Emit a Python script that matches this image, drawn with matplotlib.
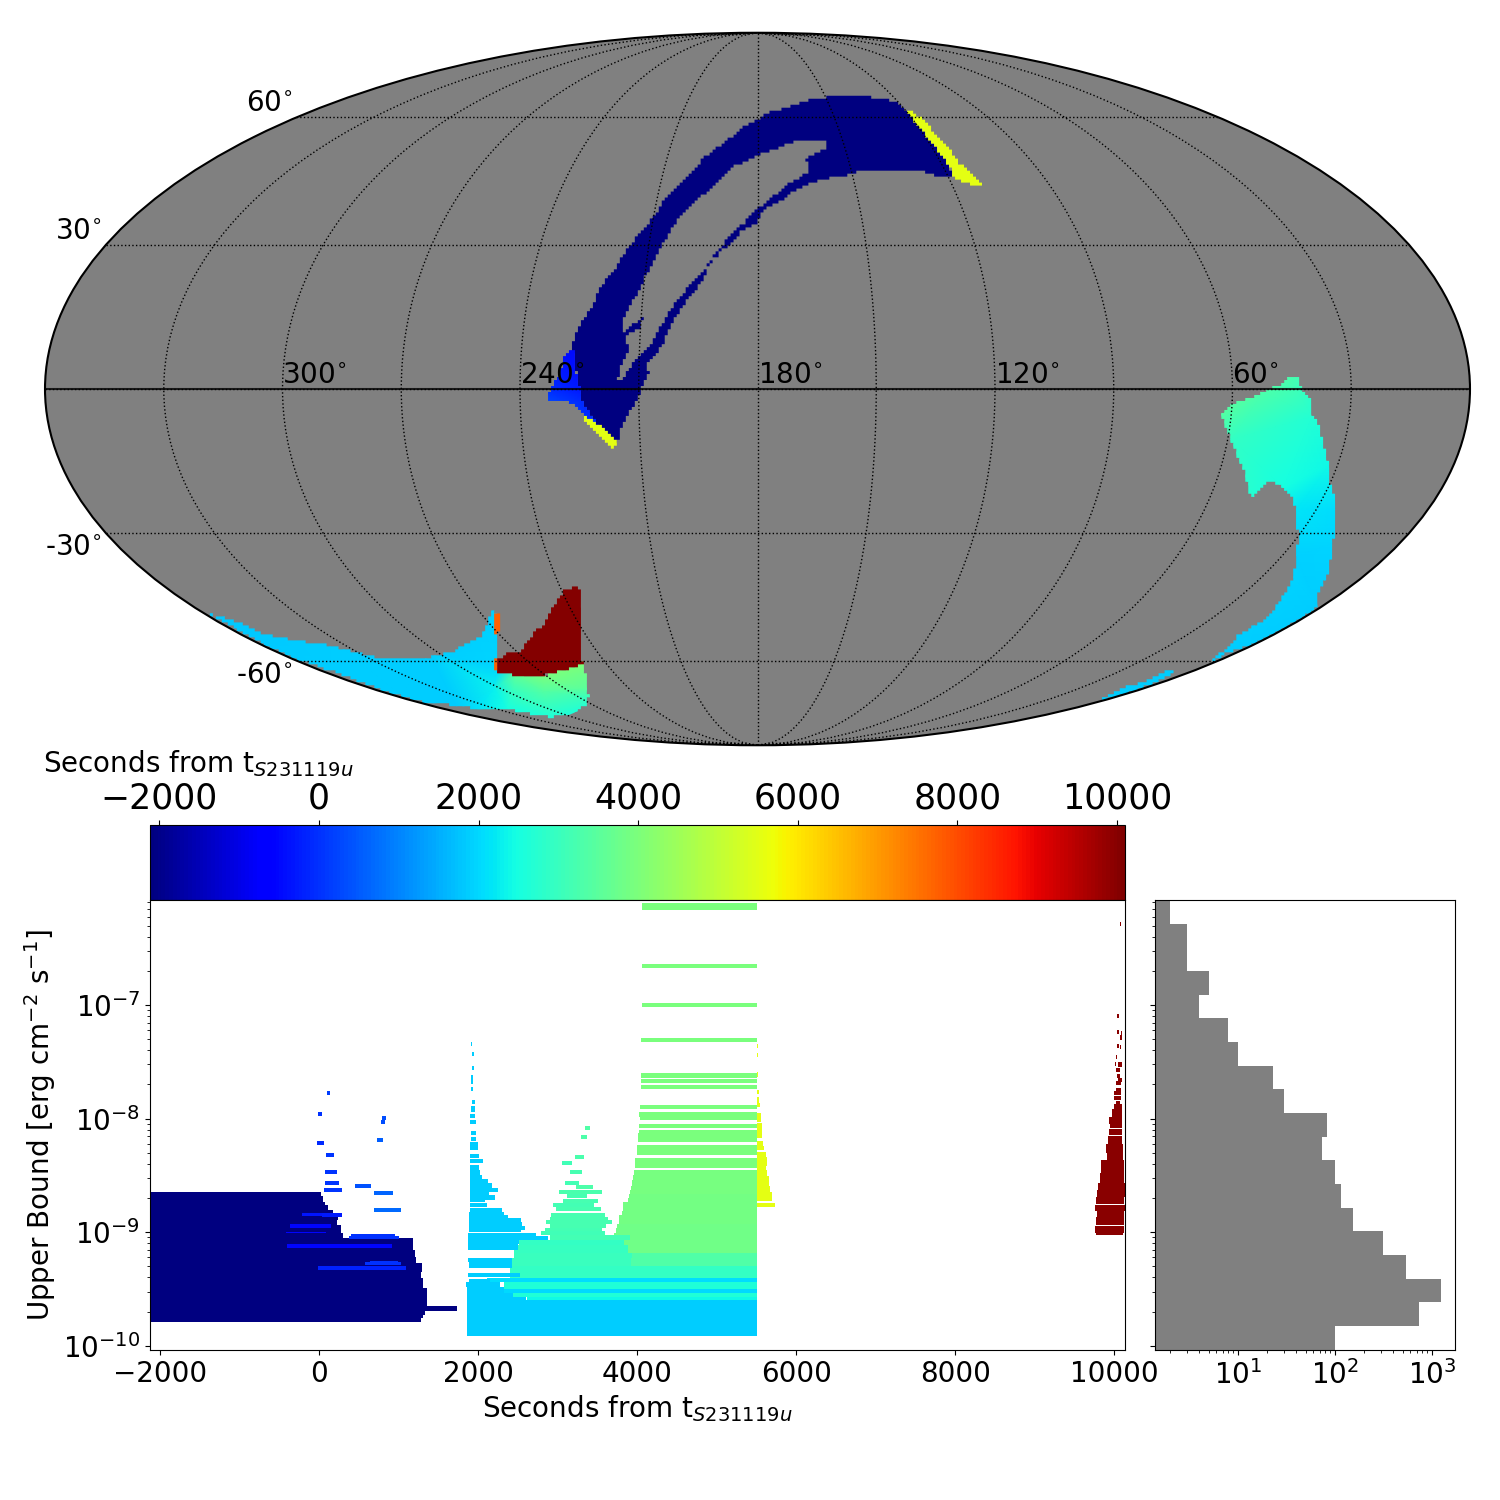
import numpy as np
import matplotlib

matplotlib.use("Agg")
import matplotlib.pyplot as plt
from matplotlib.cm import ScalarMappable
from matplotlib.colors import Normalize
from matplotlib.patches import PathPatch
from matplotlib.path import Path
from matplotlib.ticker import NullFormatter

# Colour scale and light curve panel run over slightly different windows
time_min = -2118
time_max = 10100
panel_time_min = -2130
panel_time_max = 10135
ub_min = 9.2e-11
ub_max = 8.4e-7
time_ticks = [-2000, 0, 2000, 4000, 6000, 8000, 10000]
ub_ticks = [1e-10, 1e-9, 1e-8, 1e-7]
time_label = "Seconds from t$_{S231119u}$"

# Sky regions, outline on the Mollweide plane (1000 = map half width / half height)
navy_x = [-249, -261, -251, -244, -233, -223, -213, -199, -186, -165, -146, -130, -99, -76, -50, -15, 18, 55, 78, 116, 149,
          177, 198, 207, 223, 237, 249, 261, 270, 275, 265, 244, 233, 149, 130, 111, 92, 69, 50, 32, 8,
          -1, -20, -39, -53, -71, -74, -90, -106, -123, -132, -142, -155, -153, -163, -170, -179, -191, -197, -221, -237, -247]
navy_y = [-1, 129, 175, 199, 232, 279, 309, 344, 386, 442, 484, 535, 596, 648, 690, 741, 778, 800, 816, 823, 823,
          813, 802, 783, 755, 713, 680, 648, 615, 596, 596, 603, 615, 615, 601, 596, 587, 573, 554, 526, 503,
          465, 447, 405, 381, 339, 307, 269, 227, 176, 129, 97, 73, 45, -1, -34, -67, -113, -151, -109, -67, -29]
navy_hole_x = [-197, -192, -180, -187, -165, -160, -177, -191, -187, -179, -167, -158, -142, -127, -111, -83, -60, -34, -1, 25, 55,
               97, 95, 67, 75, 55, 36, 15, -1, -20, -39, -57, -76, -85, -99, -116, -130, -142, -156, -174, -188]
navy_hole_y = [22, 55, 115, 143, 171, 202, 181, 153, 195, 232, 269, 311, 372, 428, 475, 531, 573, 622, 654, 673, 697,
               701, 676, 648, 613, 591, 566, 531, 507, 465, 433, 386, 335, 316, 283, 241, 199, 153, 111, 78, 31]

north_yellow_x = [206, 214, 226, 237, 249, 268, 282, 312, 313, 303, 287, 275, 268, 258, 247, 237, 223, 214]
north_yellow_y = [783, 781, 764, 746, 713, 680, 634, 582, 573, 573, 582, 601, 634, 657, 685, 713, 746, 769]
equator_yellow_x = [-245, -237, -221, -197, -202, -209, -223, -235, -245]
equator_yellow_y = [-74, -85, -104, -151, -168, -155, -130, -104, -85]

blue_x = [-263, -258, -258, -249, -247, -236, -222, -227, -249, -263, -277, -297, -291, -286, -277, -272]
blue_y = [111, 106, 64, -1, -29, -67, -107, -111, -62, -34, -37, -34, -1, 22, 45, 92]
blue_ctrl_x = [-275, -250, -240, -295, -302, -265, -240, -215, -232]
blue_ctrl_y = [115, 115, -5, 0, -42, -42, -30, -115, -118]
blue_ctrl_time = [-450, -450, -350, -50, 350, 100, -150, -50, -50]

south_x = [-771, -752, -736, -719, -696, -661, -633, -600, -567, -534, -492, -460, -432, -408, -385, -378, -373, -367, -364, -364,
           -301, -282, -258, -244, -242, -240, -236, -240, -258, -291, -352, -394, -422, -469, -525, -563, -591, -619, -647, -689, -731]
south_y = [-630, -641, -650, -664, -688, -702, -711, -720, -739, -753, -758, -753, -739, -716, -688, -646, -622, -632, -692, -800,
           -804, -795, -776, -767, -786, -842, -865, -888, -912, -921, -898, -898, -888, -879, -846, -818, -795, -776, -758, -720, -674]
south_ctrl_x = [-790, -760, -600, -600, -460, -385, -360, -364, -500, -420, -394, -352, -290, -225, -236, -240, -230, -301, -340, -300, -345, -370]
south_ctrl_y = [-620, -710, -700, -840, -740, -670, -610, -780, -860, -900, -898, -898, -935, -880, -865, -842, -760, -804, -802, -850, -850, -840]
south_ctrl_time = [1800, 1800, 1850, 1850, 1850, 1900, 1900, 1950, 1850, 1850, 2100, 2500, 2500, 2700, 3000, 3500, 4000, 3950, 3600, 3400, 2900, 2300]

red_x = [-364, -347, -333, -329, -310, -301, -280, -270, -251, -247, -249, -249, -247, -245, -258, -282, -301, -336, -364]
red_y = [-758, -739, -744, -720, -674, -664, -585, -562, -552, -590, -636, -692, -758, -772, -781, -795, -804, -804, -797]
orange_top_x = [-370, -361, -361, -364, -373, -368, -368]
orange_top_y = [-632, -632, -660, -688, -683, -669, -650]
orange_low_x = [-368, -364, -364, -372, -368]
orange_low_y = [-756, -756, -790, -790, -781]

east_x = [743, 757, 764, 775, 778, 787, 794, 801, 803, 808, 812, 808, 801, 794, 787, 787, 766, 729, 691, 663, 635, 642, 665, 675, 701,
          722, 731, 743, 752, 757, 759, 756, 750, 738, 722, 710, 696, 691, 687, 682, 672, 665, 657, 651, 668, 691, 710, 736]
east_y = [36, 38, -1, -29, -76, -99, -151, -216, -263, -286, -338, -431, -515, -552, -571, -613, -641, -683, -720, -739, -767, -753, -716, -688, -660,
          -627, -599, -562, -524, -468, -412, -338, -305, -277, -258, -272, -302, -291, -258, -221, -183, -141, -109, -71, -39, -25, -6, 13]
east_ctrl_x = [620, 780, 830, 830, 830, 620, 640, 670, 720, 743, 651, 710, 665, 778, 696, 738, 801, 756, 812, 757, 808, 787, 691]
east_ctrl_y = [60, 60, -100, -340, -620, -790, -150, -310, -450, 36, -71, -6, -141, -76, -302, -277, -216, -338, -338, -468, -431, -613, -720]
east_ctrl_time = [3500, 3000, 2650, 2050, 1850, 1850, 3050, 2700, 2000, 3300, 3400, 3300, 2900, 2700, 2700, 2500, 2400, 2150, 2050, 1900, 1950, 1850, 1850]

tail_x = [481, 495, 513, 546, 577, 586, 560, 513, 481]
tail_y = [-870, -856, -837, -818, -790, -797, -823, -860, -874]

sky_lon_labels = [300, 240, 180, 120, 60]
sky_lat_labels = [60, 30, -30, -60]

# Upper bound rows, exponents of the bound
navy_end = [19, 48, 73, 111, 165, 230, 236, 223, 265, 290, 1176, 1201, 1209, 1289, 1276, 1297, 1347, 1723, 1326, 1301, 1272]
navy_top = [-8.642, -8.677, -8.730, -8.759, -8.803, -8.833, -8.862, -8.891, -8.935, -9.009, -9.052, -9.155, -9.214, -9.272, -9.346, -9.404, -9.492, -9.653, -9.692, -9.727, -9.756]
navy_bottom = [-8.677, -8.730, -8.759, -8.803, -8.833, -8.862, -8.891, -8.935, -9.009, -9.052, -9.155, -9.214, -9.272, -9.346, -9.404, -9.492, -9.653, -9.692, -9.727, -9.756, -9.788]

streak_start = [94, -19, 783, 771, 721, -31, 81, 69, 69, 56, 445, 683, 683, -219, 31, -370, -420, 395, 370, -407, 633, 570, -19]
streak_end = [132, 31, 833, 821, 796, 56, 182, 219, 244, 282, 645, 921, 1021, 282, 282, 144, 81, 946, 996, 909, 984, 1021, 1084]
streak_top = [-7.757, -7.941, -7.976, -8.012, -8.170, -8.196, -8.302, -8.451, -8.548, -8.610, -8.575, -8.636, -8.786, -8.830, -8.830, -8.926, -8.997, -9.014, -9.032, -9.102, -9.252, -9.261, -9.296]
streak_bottom = [-7.792, -7.976, -8.012, -8.047, -8.205, -8.231, -8.337, -8.487, -8.583, -8.645, -8.610, -8.671, -8.821, -8.856, -8.865, -8.962, -9.006, -9.032, -9.058, -9.137, -9.261, -9.287, -9.331]
streak_time = [150, 0, 350, 350, 550, -100, 30, 30, 30, 30, 400, 650, 670, -350, -300, -500, -500, 0, 0, -500, 0, 0, -200]

cyan_start = [1898, 1911, 1911, 1898, 1898, 1911, 1898, 1886, 1886, 1898, 1898, 1886, 1886, 1886, 1886, 1886, 1886, 1886, 1886, 1886, 1886, 1886, 1886,
              1886, 1886, 1873, 1873, 1873, 1873, 1873, 1873, 1861, 1861, 1861, 1861, 1861, 1873, 1861, 1873, 1836, 1844, 1844, 1844, 1844]
cyan_end = [1911, 1936, 1936, 1923, 1923, 1948, 1948, 1948, 1961, 1961, 1961, 1986, 1999, 2049, 1999, 2011, 2036, 2111, 2162, 2237, 2124, 2199, 2074,
            2099, 2287, 2312, 2362, 2525, 2537, 2575, 2525, 2713, 2868, 2500, 2487, 2412, 2412, 2512, 2137, 2262, 2312, 2429, 2587, 5482]
cyan_top = [-7.326, -7.414, -7.537, -7.616, -7.721, -7.836, -7.888, -7.959, -8.012, -8.108, -8.161, -8.205, -8.311, -8.355, -8.407, -8.451, -8.495, -8.531, -8.566, -8.610, -8.645, -8.671, -8.715,
            -8.742, -8.786, -8.821, -8.847, -8.874, -8.909, -8.944, -8.979, -9.006, -9.032, -9.067, -9.102, -9.225, -9.261, -9.357, -9.410, -9.437, -9.478, -9.536, -9.571, -9.595]
cyan_bottom = [-7.361, -7.449, -7.572, -7.695, -7.757, -7.871, -7.941, -7.994, -8.047, -8.144, -8.196, -8.276, -8.346, -8.390, -8.451, -8.495, -8.531, -8.566, -8.610, -8.645, -8.671, -8.715, -8.733,
               -8.777, -8.821, -8.847, -8.874, -8.909, -8.944, -8.979, -8.997, -9.032, -9.067, -9.102, -9.155, -9.261, -9.313, -9.393, -9.437, -9.478, -9.536, -9.571, -9.595, -9.917]

band_start = [3900, 3650, 2390, 2100, 2310, 2300, 2430, 2600]
band_top = [-9.184, -9.228, -9.296, -9.401, -9.437, -9.501, -9.536, -9.571]
band_bottom = [-9.228, -9.296, -9.401, -9.437, -9.501, -9.536, -9.571, -9.595]
band_time = [3350, 3350, 2900, 2050, 2650, 2000, 2650, 2400]

teal_start = [3327, 3277, 3201, 3039, 3139, 3076, 3214, 3001, 3101, 3051, 2926, 2963, 2901, 2888, 2838, 2888, 2826, 2776, 2888, 2500, 2437, 2437, 2412]
teal_end = [3389, 3352, 3314, 3164, 3289, 3252, 3427, 3540, 3352, 3490, 3439, 3528, 3578, 3615, 3665, 3590, 3540, 3578, 3891, 3816, 3866, 3916, 3908]
teal_top = [-8.064, -8.144, -8.319, -8.372, -8.451, -8.548, -8.583, -8.627, -8.662, -8.707, -8.742, -8.777, -8.830, -8.865, -8.891, -8.926, -8.962, -8.988, -9.023, -9.067, -9.111, -9.184, -9.228]
teal_bottom = [-8.100, -8.179, -8.355, -8.407, -8.487, -8.583, -8.619, -8.662, -8.698, -8.742, -8.777, -8.812, -8.865, -8.891, -8.926, -8.962, -8.988, -9.023, -9.067, -9.111, -9.184, -9.228, -9.296]
teal_time = [3350, 3300, 3250, 3100, 3200, 3150, 3300, 3250, 3200, 3200, 3150, 3200, 3200, 3200, 3200, 3200, 3150, 3100, 3150, 2900, 2950, 3000, 3000]

green_start = [4040, 4040, 4040, 4028, 4028, 4028, 4028, 4015, 4002, 4015, 4002, 4002, 3989, 3977, 3956, 3956, 3943, 3930, 3917, 3905, 3892, 3879, 3867, 3803, 3790, 3752, 3727, 3714, 3689, 3600]
green_top = [-6.103, -6.639, -6.983, -7.290, -7.598, -7.651, -7.704, -7.880, -7.941, -7.985, -8.047, -8.100, -8.126, -8.231, -8.346, -8.399, -8.451, -8.495, -8.539, -8.592, -8.627, -8.662, -8.698, -8.733, -8.812, -8.847, -8.926, -8.965, -9.009, -9.023]
green_bottom = [-6.164, -6.675, -7.018, -7.326, -7.642, -7.686, -7.739, -7.915, -7.985, -8.012, -8.082, -8.126, -8.205, -8.319, -8.399, -8.434, -8.495, -8.539, -8.592, -8.627, -8.662, -8.698, -8.733, -8.812, -8.847, -8.926, -8.965, -9.009, -9.023, -9.184]
green_time = [3990, 3990, 3990, 3990, 3990, 3990, 3990, 3980, 3980, 3980, 3970, 3970, 3960, 3950, 3950, 3950, 3940, 3930, 3920, 3910, 3900, 3890, 3880, 3870, 3860, 3850, 3840, 3830, 3830, 3830]

yellow_end = [5493, 5493, 5493, 5506, 5506, 5519, 5531, 5544, 5557, 5569, 5595, 5608, 5595, 5608, 5633, 5646, 5671, 5709]
yellow_top = [-7.343, -7.422, -7.589, -7.748, -7.809, -7.862, -7.950, -8.038, -8.196, -8.240, -8.293, -8.337, -8.416, -8.451, -8.504, -8.592, -8.645, -8.742]
yellow_bottom = [-7.378, -7.457, -7.633, -7.783, -7.862, -7.897, -8.029, -8.170, -8.240, -8.276, -8.337, -8.416, -8.451, -8.504, -8.592, -8.645, -8.724, -8.777]

red_start = [10030, 10000, 10000, 10043, 10030, 10000, 10030, 9979, 9971, 10005, 9979, 9988, 10005, 9979, 9983, 9958, 9958, 9979,
             9958, 9928, 9894, 9911, 9894, 9878, 9852, 9865, 9793, 9780, 9755, 9742, 9729, 9716, 9742, 9729, 9716, 9729]
red_end = [10043, 10017, 10017, 10055, 10055, 10017, 10043, 9996, 9983, 10055, 10030, 10030, 10055, 10043, 10043, 10043, 10043, 10030,
           10055, 10055, 10055, 10055, 10055, 10055, 10068, 10068, 10081, 10081, 10094, 10094, 10081, 10094, 10081, 10081, 10081, 10068]
red_top = [-6.270, -7.079, -7.220, -7.229, -7.264, -7.343, -7.352, -7.440, -7.501, -7.501, -7.554, -7.607, -7.642, -7.669, -7.730, -7.757, -7.801, -7.845,
           -7.871, -7.915, -7.982, -8.047, -8.091, -8.152, -8.223, -8.305, -8.363, -8.481, -8.569, -8.627, -8.692, -8.759, -8.812, -8.868, -8.944, -9.003]
red_bottom = [-6.305, -7.114, -7.255, -7.264, -7.308, -7.378, -7.387, -7.475, -7.537, -7.542, -7.589, -7.642, -7.677, -7.704, -7.757, -7.792, -7.836, -7.871,
              -7.915, -7.982, -8.047, -8.082, -8.144, -8.223, -8.305, -8.363, -8.481, -8.569, -8.627, -8.686, -8.750, -8.812, -8.868, -8.935, -9.003, -9.023]

# Histogram of the bounds, top bin first
hist_edges = [-6.0765, -6.2848, -6.4931, -6.7014, -6.9097, -7.118, -7.3263, -7.5346, -7.7429, -7.9512, -8.1595,
              -8.3678, -8.5761, -8.7844, -8.9927, -9.201, -9.4093, -9.6176, -9.8259, -10.0342]
hist_counts = [2, 3, 3, 5, 4, 8, 10, 23, 30, 84, 73, 100, 115, 156, 317, 549, 1260, 744, 100]

cmap = plt.get_cmap("jet")
norm = Normalize(vmin=time_min, vmax=time_max)

# Size of one sky pixel on the plane
cell_x = 4.2
cell_y = 8.4


def plane_xy(x, y):
    return np.array(x) / 1000 * 2 * np.sqrt(2), np.array(y) / 1000 * np.sqrt(2)


def pixel_outline(x, y):
    # walk the outline and snap it to the sky pixels, so the edge steps like the map does
    xs = list(x) + [x[0]]
    ys = list(y) + [y[0]]
    out = []
    for i in range(len(x)):
        steps = int(max(abs(xs[i + 1] - xs[i]) / cell_x, abs(ys[i + 1] - ys[i]) / cell_y) * 2) + 1
        for k in range(steps):
            px = round((xs[i] + (xs[i + 1] - xs[i]) * k / steps) / cell_x) * cell_x
            py = round((ys[i] + (ys[i + 1] - ys[i]) * k / steps) / cell_y) * cell_y
            if out and out[-1][0] != px and out[-1][1] != py:
                out.append((px, out[-1][1]))
            if not out or out[-1] != (px, py):
                out.append((px, py))
    return np.array(out)


def sky_path(ax, x, y):
    outline = pixel_outline(x, y)
    px, py = plane_xy(outline[:, 0], outline[:, 1])
    lonlat = ax.transProjection.inverted().transform(np.column_stack([px, py]))
    return Path(np.vstack([lonlat, lonlat[0]]), closed=True)


def add_region(ax, path, time):
    ax.add_patch(PathPatch(path, facecolor=cmap(norm(time)), edgecolor="none"))


def add_gradient_region(ax, path, ctrl_x, ctrl_y, ctrl_time):
    # Gouraud meshes only take an affine transform, so they stay on the projected plane
    px, py = plane_xy(ctrl_x, ctrl_y)
    mesh = ax.tripcolor(px, py, np.array(ctrl_time, dtype=float), shading="gouraud", cmap=cmap, norm=norm,
                        transform=ax.transAffine + ax.transAxes)
    mesh.set_clip_path(path, transform=ax.transData)


def panel_time(t):
    # rows were read against the colour bar, whose scale is a little narrower than the panel axis
    return 1.00377 * np.array(t, dtype=float) + 2.5


def add_rows(ax, start, end, top, bottom, time):
    upper = 10.0 ** np.array(top)
    lower = 10.0 ** np.array(bottom)
    left = panel_time(start)
    ax.barh(lower, panel_time(end) - left, height=upper - lower, left=left, align="edge",
            color=cmap(norm(np.array(time, dtype=float))), linewidth=0)


fig = plt.figure(figsize=(15, 15), dpi=100)

# Sky map
ax_sky = fig.add_axes([45 / 1500, 754 / 1500, 1425 / 1500, 714 / 1500], projection="mollweide")
ax_sky.set_facecolor("gray")
ax_sky.set_longitude_grid(30)
ax_sky.set_latitude_grid(30)
ax_sky.set_longitude_grid_ends(90)
ax_sky.xaxis.set_major_formatter(NullFormatter())
ax_sky.yaxis.set_major_formatter(NullFormatter())
ax_sky.spines["geo"].set_linewidth(1.5)

navy_path = Path.make_compound_path(
    sky_path(ax_sky, navy_x, navy_y),
    sky_path(ax_sky, navy_hole_x[::-1], navy_hole_y[::-1]),
)
add_region(ax_sky, navy_path, time_min)
add_gradient_region(ax_sky, sky_path(ax_sky, blue_x, blue_y), blue_ctrl_x, blue_ctrl_y, blue_ctrl_time)
add_region(ax_sky, sky_path(ax_sky, north_yellow_x, north_yellow_y), 5530)
add_region(ax_sky, sky_path(ax_sky, equator_yellow_x, equator_yellow_y), 5530)
add_gradient_region(ax_sky, sky_path(ax_sky, south_x, south_y), south_ctrl_x, south_ctrl_y, south_ctrl_time)
add_region(ax_sky, sky_path(ax_sky, red_x, red_y), 10050)
add_region(ax_sky, sky_path(ax_sky, orange_top_x, orange_top_y), 7750)
add_region(ax_sky, sky_path(ax_sky, orange_low_x, orange_low_y), 7750)
add_gradient_region(ax_sky, sky_path(ax_sky, east_x, east_y), east_ctrl_x, east_ctrl_y, east_ctrl_time)
add_region(ax_sky, sky_path(ax_sky, tail_x, tail_y), 1880)

ax_sky.grid(True, color="k", linestyle=":", linewidth=1)
ax_sky.set_axisbelow(False)
ax_sky.plot([-np.pi, np.pi], [0, 0], color="k", linewidth=1.5, alpha=0.8)

for lon in sky_lon_labels:
    ax_sky.text(np.radians(180 - lon), 0, f"{lon}$^{{\\circ}}$", fontsize=20, ha="left", va="bottom")
for lat in sky_lat_labels:
    ax_sky.annotate(f"{lat}$^{{\\circ}}$", xy=(-np.pi, np.radians(lat)), xytext=(-3, 0), textcoords="offset points",
                    fontsize=20, ha="right", va="bottom" if lat > 0 else "top")

# Colour bar
ax_bar = fig.add_axes([150 / 1500, 600 / 1500, 975 / 1500, 75 / 1500])
bar = fig.colorbar(ScalarMappable(norm=norm, cmap=cmap), cax=ax_bar, orientation="horizontal", ticklocation="top")
bar.set_ticks(time_ticks)
bar.ax.tick_params(labelsize=25)
fig.text(43 / 1500, 1 - 764 / 1500, time_label, fontsize=20, ha="left", va="center")

# Upper bound against time
ax_ub = fig.add_axes([150 / 1500, 150 / 1500, 975 / 1500, 450 / 1500])
ax_ub.set_yscale("log")
add_rows(ax_ub, green_start, 5482, green_top, green_bottom, green_time)
add_rows(ax_ub, band_start, 5482, band_top, band_bottom, band_time)
add_rows(ax_ub, teal_start, teal_end, teal_top, teal_bottom, teal_time)
add_rows(ax_ub, cyan_start, cyan_end, cyan_top, cyan_bottom, 1870)
add_rows(ax_ub, panel_time_min - 20, navy_end, navy_top, navy_bottom, time_min)
add_rows(ax_ub, streak_start, streak_end, streak_top, streak_bottom, streak_time)
add_rows(ax_ub, 5482, yellow_end, yellow_top, yellow_bottom, 5530)
add_rows(ax_ub, red_start, red_end, red_top, red_bottom, 10000)
ax_ub.set_xlim(panel_time_min, panel_time_max)
ax_ub.set_ylim(ub_min, ub_max)
ax_ub.set_xticks(time_ticks)
ax_ub.set_yticks(ub_ticks)
ax_ub.tick_params(labelsize=20)
ax_ub.set_xlabel(time_label, fontsize=20)
ax_ub.set_ylabel("Upper Bound [erg cm$^{-2}$ s$^{-1}$]", fontsize=20)

# Histogram
ax_hist = fig.add_axes([1155 / 1500, 150 / 1500, 300 / 1500, 450 / 1500])
edges = 10.0 ** np.array(hist_edges)
ax_hist.barh(edges[1:], hist_counts, height=edges[:-1] - edges[1:], align="edge", color="gray", linewidth=0)
ax_hist.set_xscale("log")
ax_hist.set_yscale("log")
ax_hist.set_xlim(1.4, 1738)
ax_hist.set_ylim(ub_min, ub_max)
ax_hist.set_yticks(ub_ticks)
ax_hist.tick_params(labelsize=20, labelleft=False)

fig.savefig("out.png", dpi=100)
plt.close()
